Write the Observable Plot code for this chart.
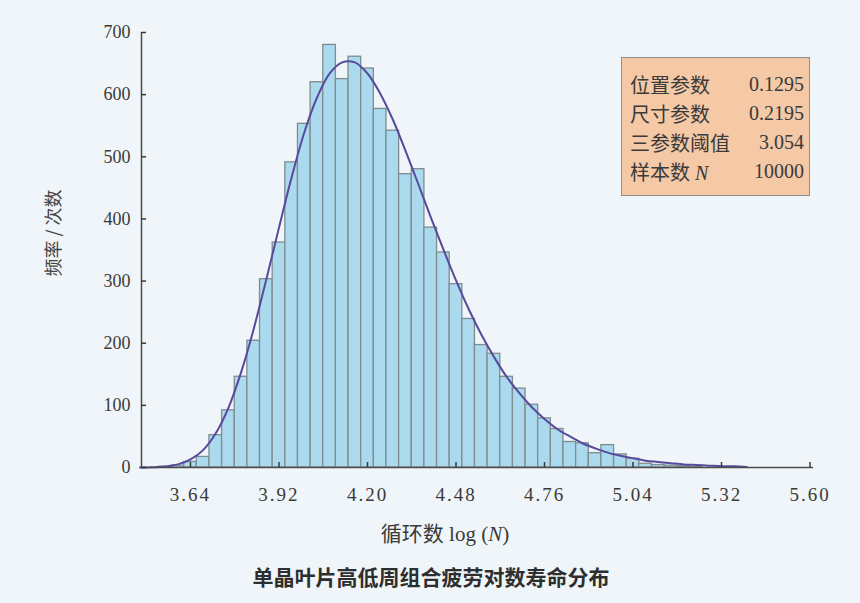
<!DOCTYPE html>
<html><head><meta charset="utf-8">
<script src="https://cdn.jsdelivr.net/npm/d3@7"></script>
<script src="https://cdn.jsdelivr.net/npm/@observablehq/plot@0.6"></script>
<style>
html,body{margin:0;padding:0;}
body{width:860px;height:603px;background:#eff5f8;position:relative;overflow:hidden;font-family:"Liberation Serif","Noto Sans CJK SC",serif;color:#363636;}
#chart{position:absolute;left:0;top:0;}
.legend{position:absolute;left:621px;top:57px;width:189px;height:139px;box-sizing:border-box;background:#f5c8a6;border:1.5px solid #8e8e8e;padding:12px 5px 0 8px;display:grid;grid-template-columns:auto auto;grid-auto-rows:29px;align-items:center;font-size:20px;color:#3a3a3a;}
.legend .v{text-align:right;}
.ylabel{position:absolute;left:52px;top:233px;transform:translate(-50%,-50%) rotate(-90deg);white-space:nowrap;font-family:"Noto Sans CJK SC",sans-serif;font-size:18px;color:#444;}
.xlabel{position:absolute;left:445px;top:532px;transform:translate(-50%,-50%);white-space:nowrap;font-size:21px;color:#3a3a3a;}
.caption{position:absolute;left:431px;top:576px;transform:translate(-50%,-50%);white-space:nowrap;font-family:"Noto Sans CJK SC",sans-serif;font-weight:700;font-size:21px;color:#2e2e2e;}
</style></head>
<body>
<div id="chart"></div>
<div class="legend" id="legend"></div>
<div class="ylabel" id="ylabel"></div>
<div class="xlabel" id="xlabel"></div>
<div class="caption" id="caption"></div>
<script>
// histogram bins (left edge, log N) and counts
const binStarts = [3.54,3.58,3.62,3.66,3.70,3.74,3.78,3.82,3.86,3.90,3.94,3.98,
  4.02,4.06,4.10,4.14,4.18,4.22,4.26,4.30,4.34,4.38,4.42,4.46,4.50,4.54,4.58,4.62,
  4.66,4.70,4.74,4.78,4.82,4.86,4.90,4.94,4.98,5.02,5.06,5.10,5.14,5.18,5.22];
const counts = [1,3,9,17,52,92,146,204,303,362,491,553,
  620,680,625,661,642,577,542,472,480,386,346,295,239,197,183,146,
  127,101,79,62,41,39,23,36,21,14,6,4,3,2,1];
const binWidth = 0.04;

// fitted density curve
const curveX = [3.48,3.52,3.56,3.60,3.64,3.68,3.72,3.76,3.80,3.84,3.88,3.92,3.96,4.00,
  4.04,4.08,4.12,4.16,4.20,4.24,4.28,4.32,4.36,4.40,4.44,4.48,4.52,4.56,4.60,4.64,
  4.68,4.72,4.76,4.80,4.84,4.88,4.92,4.96,5.00,5.04,5.08,5.12,5.16,5.20,5.24,5.28,5.32,5.36,5.40];
const curveY = [0,0.4,1.6,5,13,28,55,96,153,223,303,386,467,539,
  595,634,652,652,634,602,560,510,457,403,351,301,255,214,178,146,
  120,97,78,62,50,39,31,24,19,15,11,9,7,5,4,3,2,2,1];

const xTicks = [3.64,3.92,4.20,4.48,4.76,5.04,5.32,5.60];
const yTicks = [0,100,200,300,400,500,600,700];
const xDomain = [3.485,5.611];
const yDomain = [0,700];

const legendLabels = ["位置参数","尺寸参数","三参数阈值","样本数 N"];
const legendValues = ["0.1295","0.2195","3.054","10000"];
const xTitle = "循环数 log (N)";
const yTitle = "频率 / 次数";
const captionText = "单晶叶片高低周组合疲劳对数寿命分布";

const bars = binStarts.map((x0,i)=>({x1:x0, x2:x0+binWidth, y:counts[i]}));
const fit = curveX.map((x,i)=>({x, y:curveY[i]}));

const chart = Plot.plot({
  width:860, height:545,
  marginLeft:141, marginRight:47, marginTop:32, marginBottom:78,
  style:{background:"transparent", fontFamily:'"Liberation Serif", serif', fontSize:"18px", color:"#3a3a3a"},
  x:{domain:xDomain, axis:null},
  y:{domain:yDomain, axis:null},
  marks:[
    Plot.rectY(bars,{x1:"x1",x2:"x2",y:"y",fill:"#abdaef",stroke:"#7f8c8f",strokeWidth:1.3}),
    Plot.line(fit,{x:"x",y:"y",stroke:"#574a9c",strokeWidth:2,curve:"catmull-rom"}),
    Plot.ruleY([0],{stroke:"#4b4b4b",strokeWidth:1.5}),
    Plot.ruleX([xDomain[0]],{stroke:"#4b4b4b",strokeWidth:1.5}),
    Plot.axisX(xTicks,{tickFormat:d=>d.toFixed(2), tickSize:-5, tickPadding:25, label:null, strokeWidth:1.5}),
    Plot.axisY(yTicks,{tickSize:-5, tickPadding:16, label:null, strokeWidth:1.5})
  ]
});
chart.querySelectorAll('g[aria-label="x-axis tick label"] text').forEach(t=>{
  t.style.letterSpacing = "2px";
  t.style.fontSize = "19px";
});
document.getElementById("chart").appendChild(chart);

const lg = document.getElementById("legend");
legendLabels.forEach((l,i)=>{
  const a = document.createElement("div");
  a.innerHTML = l.replace(/ N$/, " <i>N</i>");
  const b = document.createElement("div");
  b.className = "v";
  b.textContent = legendValues[i];
  lg.appendChild(a); lg.appendChild(b);
});
document.getElementById("ylabel").textContent = yTitle;
document.getElementById("xlabel").innerHTML = xTitle.replace("(N)", "(<i>N</i>)");
document.getElementById("caption").textContent = captionText;
</script>
</body></html>
